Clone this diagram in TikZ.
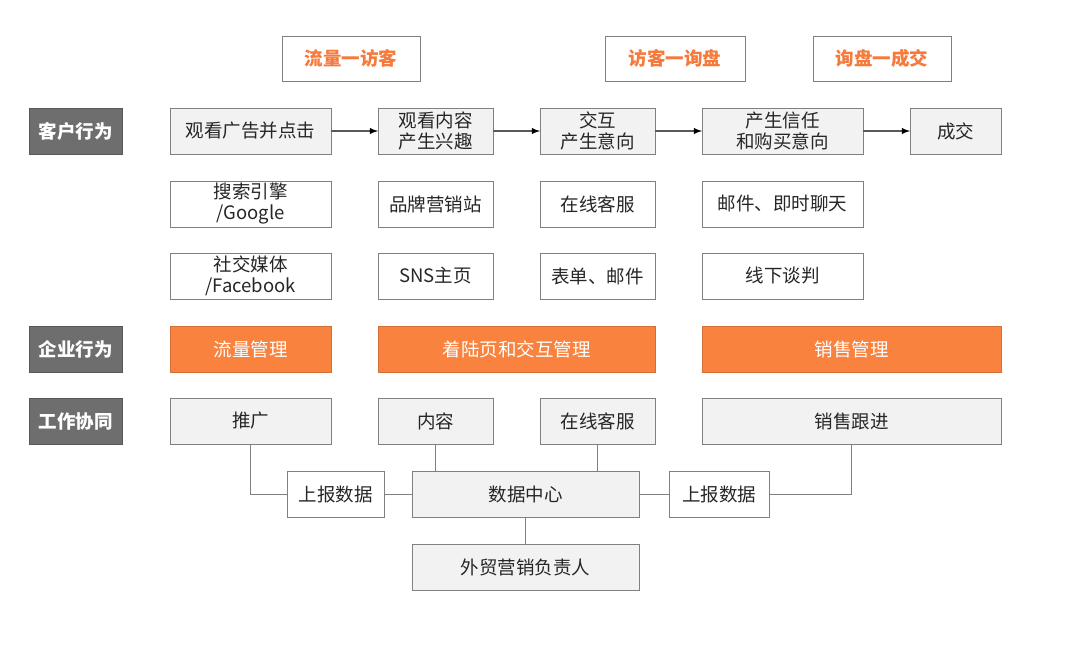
\documentclass[tikz,border=0pt]{standalone}
\usepackage{fontspec}
\setmainfont{Noto Sans CJK SC}
\usepackage{xcolor}
\usetikzlibrary{arrows,positioning}
\definecolor{tag}{RGB}{110, 110, 110}
\definecolor{pale}{RGB}{242, 242, 242}
\definecolor{rim}{RGB}{128, 128, 128}
\definecolor{ink}{RGB}{38, 38, 38}
\definecolor{shaft}{RGB}{89, 89, 89}
\definecolor{orange}{RGB}{248, 130, 62}
\definecolor{peach}{RGB}{245, 122, 60}
\newcommand{\boxfont}{\fontsize{18.5}{21}\selectfont}
\tikzstyle{rowtag} = [rectangle, draw=tag!80!black, line width=1pt, fill=tag, text=white, font=\bfseries\boxfont, minimum width=93pt, minimum height=46pt, inner sep=0pt, outer sep=0pt]
\tikzstyle{stage} = [rectangle, draw=rim, line width=1pt, fill=white, text=peach, font=\bfseries\boxfont, minimum height=45pt, inner sep=0pt, outer sep=0pt]
\tikzstyle{act} = [rectangle, draw=rim, line width=1pt, fill=pale, text=ink, align=center, font=\boxfont, minimum height=46pt, inner sep=0pt, outer sep=0pt]
\tikzstyle{way} = [act, fill=white]
\tikzstyle{mgmt} = [act, fill=orange, draw=orange!85!black, text=white]
\tikzstyle{tedge} = [draw=shaft, line width=1.8pt, >=latex, ->]
\tikzstyle{link} = [draw=rim, line width=0.9pt]
\begin{document}
\begin{tikzpicture}[x=1pt, y=-1pt]
\useasboundingbox (0,0) rectangle (1080,645);

% stages =============================
\node[stage, minimum width=138pt] (visit) at (351,58.5) {流量一访客};
\node[stage, minimum width=140pt] (inquiry) at (675,58.5) {访客一询盘};
\node[stage, minimum width=138pt] (close) at (882,58.5) {询盘一成交};

% row tags
\node[rowtag] (customer) at (75.5,131) {客户行为};
\node[rowtag] (company) at (75.5,349) {企业行为};
\node[rowtag] (teamwork) at (75.5,421.5) {工作协同};

% customer behaviour
\node[act, minimum width=161pt] (ad) at (250.5,131) {观看广告并点击};
\node[act, minimum width=115pt, right=47pt of ad] (interest) {观看内容\\产生兴趣};
\node[act, minimum width=115pt, right=47pt of interest] (intent) {交互\\产生意向};
\node[act, minimum width=161pt, right=47pt of intent] (trust) {产生信任\\和购买意向};
\node[act, minimum width=91pt, right=47pt of trust] (deal) {成交};

\node[way, minimum width=161pt, below=27pt of ad] (search) {搜索引擎\\/Google};
\node[way, minimum width=115pt, below=27pt of interest] (brand) {品牌营销站};
\node[way, minimum width=115pt, below=27pt of intent] (chat) {在线客服};
\node[way, minimum width=161pt, below=27pt of trust] (mail) {邮件、即时聊天};

\node[way, minimum width=161pt, below=26pt of search] (social) {社交媒体\\/Facebook};
\node[way, minimum width=115pt, below=26pt of brand] (sns) {SNS主页};
\node[way, minimum width=115pt, below=26pt of chat] (form) {表单、邮件};
\node[way, minimum width=161pt, below=26pt of mail] (offline) {线下谈判};

% company behaviour
\node[mgmt, minimum width=161pt, below=27pt of social] (traffic) {流量管理};
\node[mgmt, minimum width=277pt] (landing) at (516.5,349) {着陆页和交互管理};
\node[mgmt, minimum width=299pt] (sales) at (851.5,349) {销售管理};

% teamwork
\node[act, minimum width=161pt, below=26pt of traffic] (push) {推广};
\node[act, minimum width=115pt] (content) at (435.5,421.5) {内容};
\node[act, minimum width=115pt] (support) at (597.5,421.5) {在线客服};
\node[act, minimum width=299pt, below=26pt of sales] (follow) {销售跟进};

\node[act, minimum width=227pt] (hub) at (525.5,494) {数据中心};
\node[way, minimum width=97pt] (report1) at (335.5,494) {上报数据};
\node[way, minimum width=100pt] (report2) at (719,494) {上报数据};
\node[act, minimum width=227pt, below=27pt of hub] (owner) {外贸营销负责人};

% edges
\path[tedge] (ad) edge (interest);
\path[tedge] (interest) edge (intent);
\path[tedge] (intent) edge (trust);
\path[tedge] (trust) edge (deal);

% data links
\draw[link] (push.south) |- (report1.west);
\draw[link] (report1) -- (hub);
\draw[link] (content.south) -- (content.south |- hub.north);
\draw[link] (support.south) -- (support.south |- hub.north);
\draw[link] (hub) -- (report2);
\draw[link] (report2.east) -| (follow.south);
\draw[link] (hub) -- (owner);

\end{tikzpicture}
\end{document}
